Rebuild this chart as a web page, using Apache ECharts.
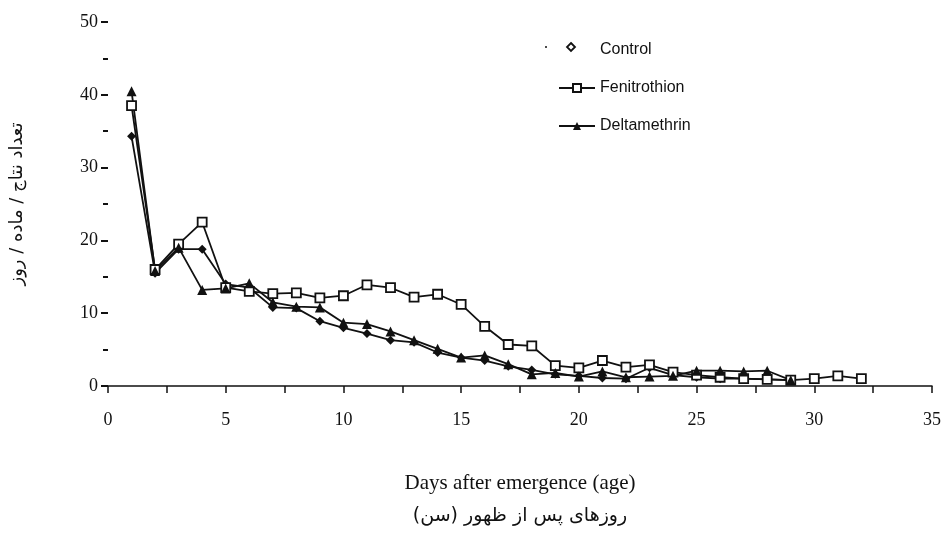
<!DOCTYPE html>
<html>
<head>
<meta charset="utf-8">
<script src="https://cdn.jsdelivr.net/npm/echarts@6/dist/echarts.min.js"></script>
<style>
  html, body { margin: 0; padding: 0; background: #fff; }
  #main { width: 950px; height: 536px; }
</style>
</head>
<body>
<div id="main"></div>
<script>
// days after emergence
var days = [1,2,3,4,5,6,7,8,9,10,11,12,13,14,15,16,17,18,19,20,21,22,23,24,25,26,27,28,29,30,31,32];
// offspring / female / day
var control = [34.3,15.5,18.8,18.8,14.0,13.5,10.8,10.7,8.9,8.0,7.2,6.3,6.0,4.6,3.9,3.5,2.7,2.2,1.6,1.4,1.1,1.0,2.5,1.5,1.2,1.0,1.0,0.9,0.8];
var fenitrothion = [38.5,16.0,19.5,22.5,13.5,13.0,12.7,12.8,12.1,12.4,13.9,13.5,12.2,12.6,11.2,8.2,5.7,5.5,2.8,2.5,3.5,2.6,2.9,1.9,1.5,1.2,1.0,0.9,0.8,1.0,1.4,1.0];
var deltamethrin = [40.5,15.8,19.0,13.2,13.4,14.1,11.5,10.9,10.8,8.7,8.5,7.5,6.3,5.1,3.9,4.2,3.0,1.6,1.8,1.3,2.0,1.2,1.3,1.4,2.1,2.1,2.0,2.1,0.8];
var seriesNames = ['Control', 'Fenitrothion', 'Deltamethrin'];
var yTitle = 'تعداد نتاج / ماده / روز';
var xTitle = 'Days after emergence (age)';
var xTitleFa = 'روزهای پس از ظهور (سن)';

function pairs(vals) {
    var out = [];
    for (var i = 0; i < vals.length; i++) out.push([days[i], vals[i]]);
    return out;
}

var serif = 'Liberation Serif';
var ink = '#111';

var chart = echarts.init(document.getElementById('main'), null, {renderer: 'canvas'});
var option = {
    backgroundColor: '#fff',
    animation: false,
    grid: {left: 106, right: 18, top: 22, bottom: 150},
    legend: {
        orient: 'vertical',
        left: 553,
        top: 37,
        itemWidth: 36,
        itemHeight: 10,
        itemGap: 22,
        textStyle: {fontFamily: 'Liberation Sans', fontSize: 16, color: ink},
        data: [
            {name: seriesNames[0], icon: 'none'},
            {name: seriesNames[1]},
            {name: seriesNames[2]}
        ]
    },
    xAxis: {
        type: 'value',
        min: 0, max: 35, interval: 5,
        axisLine: {show: true, lineStyle: {color: ink, width: 1.5}},
        axisTick: {show: true, length: 7, lineStyle: {color: ink, width: 1.5}},
        minorTick: {show: true, splitNumber: 2, length: 7, lineStyle: {color: ink, width: 1.5}},
        splitLine: {show: false},
        axisLabel: {fontFamily: serif, fontSize: 18, color: ink, margin: 25}
    },
    yAxis: {
        type: 'value',
        min: 0, max: 50, interval: 10,
        name: yTitle,
        nameLocation: 'middle',
        nameGap: 82,
        nameRotate: 90,
        nameTextStyle: {fontFamily: 'DejaVu Sans', fontSize: 18, color: ink},
        axisLine: {show: false},
        axisTick: {show: true, length: 7, lineStyle: {color: ink, width: 2}},
        minorTick: {show: true, splitNumber: 2, length: 5, lineStyle: {color: ink, width: 2}},
        splitLine: {show: false},
        axisLabel: {fontFamily: serif, fontSize: 18, color: ink, margin: 10}
    },
    graphic: [
        // Control legend marker (dot + open diamond, no line)
        {type: 'circle', shape: {cx: 546, cy: 47, r: 1}, style: {fill: ink}},
        {type: 'polygon', shape: {points: [[571, 43], [575, 47], [571, 51], [567, 47]]},
            style: {fill: '#fff', stroke: ink, lineWidth: 1.8}},
        {type: 'text', x: 520, y: 483, style: {text: xTitle, fontFamily: serif, fontSize: 21,
            fill: ink, align: 'center', verticalAlign: 'middle'}},
        {type: 'text', x: 520, y: 516, style: {text: xTitleFa, fontFamily: 'DejaVu Sans', fontSize: 19,
            fill: ink, align: 'center', verticalAlign: 'middle'}}
    ],
    series: [
        {
            name: seriesNames[0], type: 'line', data: pairs(control),
            symbol: 'diamond', symbolSize: 9,
            lineStyle: {color: ink, width: 1.8},
            itemStyle: {color: ink}
        },
        {
            name: seriesNames[1], type: 'line', data: pairs(fenitrothion),
            symbol: 'rect', symbolSize: 9,
            lineStyle: {color: ink, width: 1.8},
            itemStyle: {color: '#fff', borderColor: ink, borderWidth: 1.8}
        },
        {
            name: seriesNames[2], type: 'line', data: pairs(deltamethrin),
            symbol: 'triangle', symbolSize: 10,
            lineStyle: {color: ink, width: 1.8},
            itemStyle: {color: ink}
        }
    ]
};
chart.setOption(option);
</script>
</body>
</html>
